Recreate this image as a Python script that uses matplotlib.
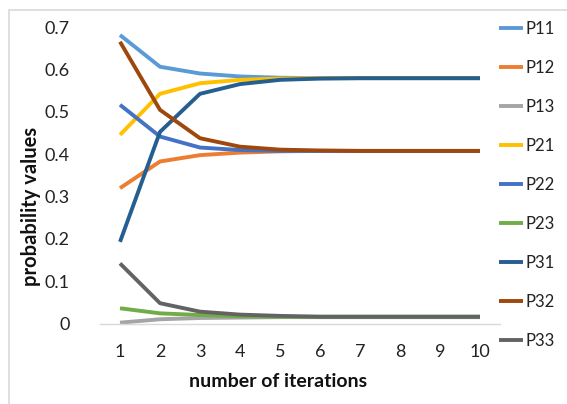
import matplotlib
matplotlib.use("Agg")
import matplotlib.pyplot as plt
from matplotlib.patches import Rectangle

iterations = [1, 2, 3, 4, 5, 6, 7, 8, 9, 10]
P11 = [0.682, 0.607, 0.591, 0.584, 0.581, 0.58, 0.58, 0.58, 0.58, 0.58]
P12 = [0.320, 0.383, 0.398, 0.404, 0.407, 0.408, 0.408, 0.408, 0.408, 0.408]
P13 = [0.002, 0.010, 0.013, 0.014, 0.015, 0.015, 0.015, 0.015, 0.015, 0.015]
P21 = [0.446, 0.543, 0.568, 0.576, 0.579, 0.58, 0.58, 0.58, 0.58, 0.58]
P22 = [0.517, 0.442, 0.416, 0.410, 0.408, 0.408, 0.408, 0.408, 0.408, 0.408]
P23 = [0.036, 0.024, 0.020, 0.017, 0.016, 0.016, 0.016, 0.016, 0.016, 0.016]
P31 = [0.193, 0.453, 0.543, 0.566, 0.576, 0.579, 0.58, 0.58, 0.58, 0.58]
P32 = [0.666, 0.505, 0.438, 0.418, 0.411, 0.409, 0.408, 0.408, 0.408, 0.408]
P33 = [0.142, 0.048, 0.028, 0.021, 0.018, 0.016, 0.016, 0.016, 0.016, 0.016]

series_names = ["P11", "P12", "P13", "P21", "P22", "P23", "P31", "P32", "P33"]
series_values = [P11, P12, P13, P21, P22, P23, P31, P32, P33]
colors = ["#5B9BD5", "#ED7D31", "#A5A5A5", "#FFC000", "#4472C4",
          "#70AD47", "#255E91", "#9E480E", "#636363"]
yticks = [0, 0.1, 0.2, 0.3, 0.4, 0.5, 0.6, 0.7]
ytick_labels = ["0", "0.1", "0.2", "0.3", "0.4", "0.5", "0.6", "0.7"]

plt.rcParams['font.family'] = ['Lato', 'DejaVu Sans']

W, H = 567, 404
fig = plt.figure(figsize=(W / 100, H / 100), dpi=100)
fig.patch.set_facecolor("white")

# chart border
fig.patches.append(Rectangle((8.5 / W, -0.1), 1.2, (H - 10) / H + 0.1,
                             transform=fig.transFigure, fill=False,
                             edgecolor="#D9D9D9", lw=1.2))

ax = fig.add_axes([100 / W, 80.5 / H, 400 / W, (323.5 - 27.4) / H])
lines = []
for name, vals, c in zip(series_names, series_values, colors):
    ln, = ax.plot(iterations, vals, color=c, lw=2.8, label=name,
                  solid_capstyle="butt")
    lines.append(ln)

ax.set_xlim(0.5, 10.5)
ax.set_ylim(0, 0.7)
ax.set_xticks(iterations)
ax.set_yticks(yticks)
ax.set_yticklabels(ytick_labels)
for s in ["top", "right", "left"]:
    ax.spines[s].set_visible(False)
ax.spines["bottom"].set_color("#D9D9D9")
ax.spines["bottom"].set_linewidth(1.0)
ax.tick_params(axis="both", length=0, labelsize=13, colors="#222222")
ax.tick_params(axis="y", pad=22)
ax.tick_params(axis="x", pad=15)

ax.set_xlabel("number of iterations", fontsize=14, fontweight="bold",
              color="#111111")
ax.set_ylabel("probability values", fontsize=14.5, fontweight="bold",
              color="#111111")
ax.xaxis.set_label_coords(0.445, -0.168)
ax.yaxis.set_label_coords(-0.147, 0.397)

leg = fig.legend(handles=lines, loc="upper left",
                 bbox_to_anchor=(499 / W, 1 - 21 / H),
                 frameon=False, fontsize=12, handlelength=1.45,
                 handletextpad=0.15, labelspacing=1.38, borderpad=0,
                 borderaxespad=0)
for t in leg.get_texts():
    t.set_color("#222222")

fig.savefig("out.png", dpi=100)
